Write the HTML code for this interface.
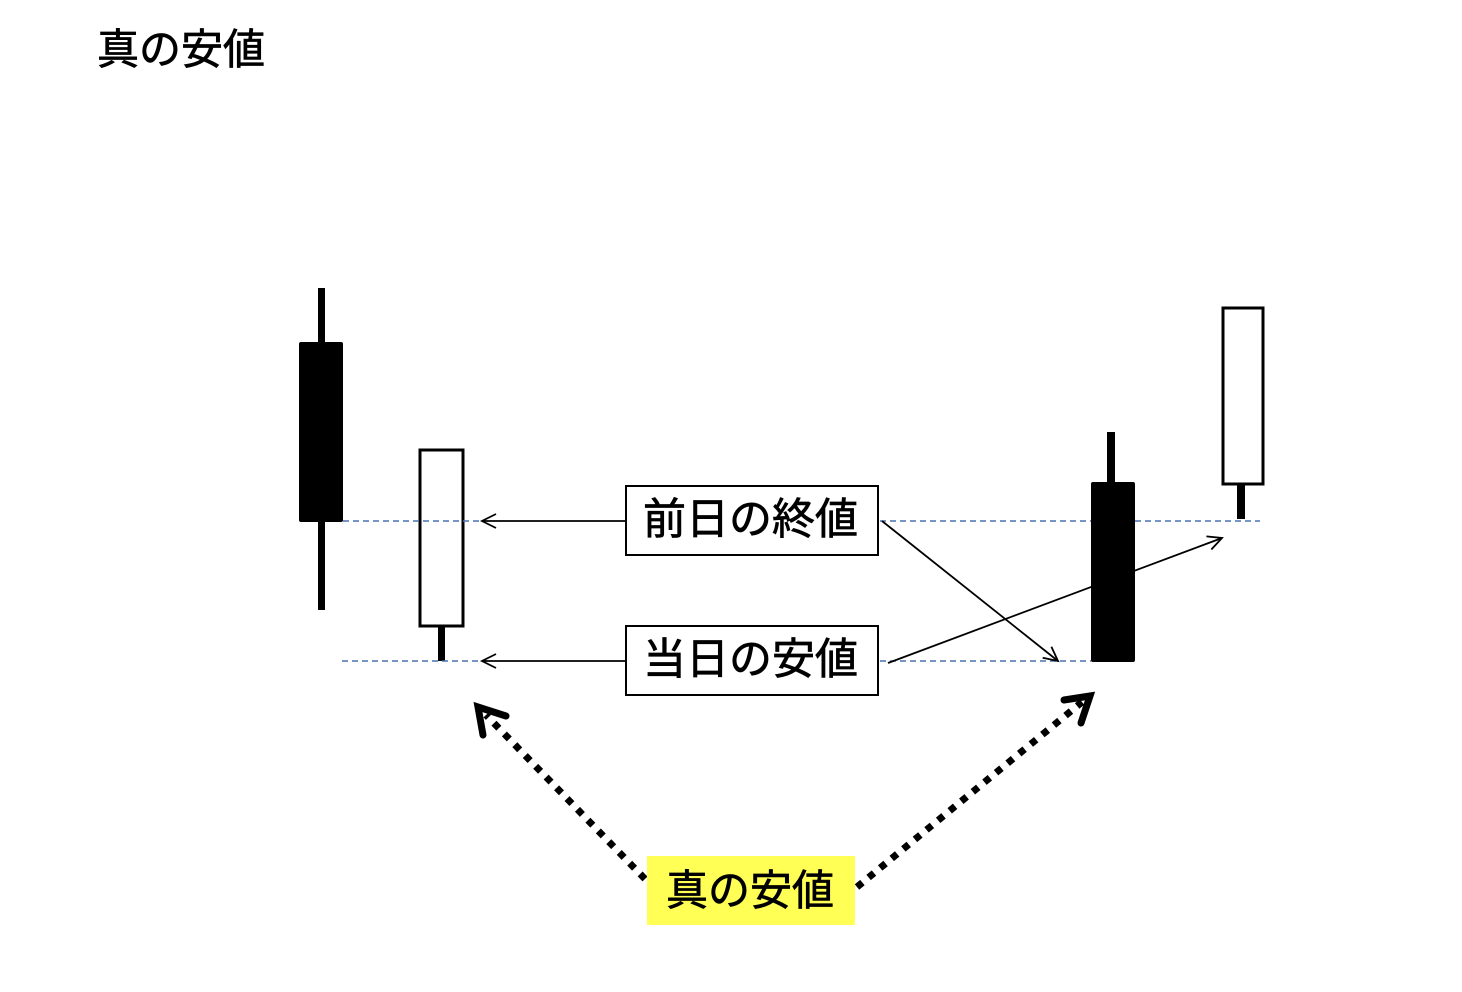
<!DOCTYPE html>
<html><head><meta charset="utf-8"><style>
html,body{margin:0;padding:0;background:#fff;}
body{width:1462px;height:992px;position:relative;overflow:hidden;font-family:"Liberation Sans","Noto Sans CJK JP",sans-serif;}
.t{position:absolute;color:#000;white-space:nowrap;font-weight:normal;-webkit-text-stroke:0.7px #000;}
</style></head><body>
<div class="t" style="left:97px;top:25px;font-size:42px;line-height:50px;">真の安値</div>
<svg width="1462" height="992" style="position:absolute;left:0;top:0">
<defs>
<marker id="a" markerWidth="20" markerHeight="20" refX="16" refY="8" orient="auto" markerUnits="userSpaceOnUse">
<path d="M2,1 L16,8 L2,15" fill="none" stroke="#000" stroke-width="1.8"/></marker>
</defs>
<rect x="318" y="288" width="7" height="322" fill="#000"/>
<rect x="299" y="342" width="44" height="180" rx="2" fill="#000"/>
<rect x="438" y="625" width="7" height="36" fill="#000"/>
<rect x="420" y="450" width="43" height="176" fill="#fff" stroke="#000" stroke-width="3"/>
<rect x="1107" y="432" width="8" height="52" fill="#000"/>
<rect x="1091" y="482" width="44" height="180" rx="2" fill="#000"/>
<rect x="1237" y="484" width="8" height="35" fill="#000"/>
<rect x="1223" y="308" width="40" height="176" fill="#fff" stroke="#000" stroke-width="3"/>
<g stroke="#4a72b0" stroke-width="1.6" stroke-dasharray="6 4">
<line x1="343" y1="521" x2="480" y2="521"/>
<line x1="342" y1="661" x2="480" y2="661"/>
<line x1="880" y1="521" x2="1091" y2="521"/>
<line x1="1135" y1="521" x2="1260" y2="521"/>
<line x1="880" y1="661" x2="1091" y2="661"/>
</g>
<g stroke="#000" stroke-width="1.8" fill="none">
<line x1="625" y1="521" x2="482" y2="521" marker-end="url(#a)"/>
<line x1="625" y1="661" x2="482" y2="661" marker-end="url(#a)"/>
<line x1="882" y1="521" x2="1058" y2="661" marker-end="url(#a)"/>
<line x1="888" y1="663" x2="1222" y2="538" marker-end="url(#a)"/>
</g>
<rect x="626" y="486" width="252" height="69" fill="#fff" stroke="#000" stroke-width="2"/>
<rect x="626" y="626" width="252" height="69" fill="#fff" stroke="#000" stroke-width="2"/>
<g stroke="#000" stroke-width="7" fill="none">
<line x1="645" y1="879" x2="486" y2="715" stroke-dasharray="7 8"/>
<line x1="857" y1="887" x2="1082" y2="702" stroke-dasharray="7 8"/>
<path d="M483,735 L478,707 L506,716" stroke-linecap="round"/>
<path d="M1064,700 L1090,696 L1081,723" stroke-linecap="round"/>
</g>
<rect x="647" y="856" width="208" height="69" fill="#ffff55"/>
</svg>
<div class="t" style="left:643px;top:494px;font-size:43px;line-height:52px;">前日の終値</div>
<div class="t" style="left:643px;top:634px;font-size:43px;line-height:52px;">当日の安値</div>
<div class="t" style="left:666px;top:865px;font-size:42px;line-height:52px;">真の安値</div>
</body></html>
